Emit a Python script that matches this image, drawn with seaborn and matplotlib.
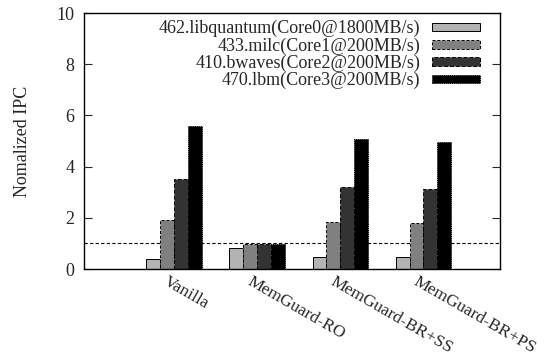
import pandas as pd
import numpy as np
import seaborn as sns
import matplotlib.pyplot as plt
import matplotlib.transforms as mtransforms

###### DATA #############
configs = ["Vanilla", "MemGuard-RO", "MemGuard-BR+SS", "MemGuard-BR+PS"]
benchmarks = ["462.libquantum(Core0@1800MB/s)",
              "433.milc(Core1@200MB/s)",
              "410.bwaves(Core2@200MB/s)",
              "470.lbm(Core3@200MB/s)"]
libquantum = [0.40, 0.83, 0.48, 0.48]
milc = [1.91, 0.99, 1.85, 1.81]
bwaves = [3.51, 0.96, 3.21, 3.13]
lbm = [5.59, 0.99, 5.08, 4.96]

colors = ["#b3b3b3", "#808080", "#333333", "#000000"]
edgestyles = ["solid", (0, (3, 2)), (0, (4, 2)), (0, (1, 1))]

rows = []
for bench, vals in zip(benchmarks, [libquantum, milc, bwaves, lbm]):
    for cfg, v in zip(configs, vals):
        rows.append({"config": cfg, "bench": bench, "ipc": v})
df = pd.DataFrame(rows)

sns.set_style("ticks")
plt.rcParams['font.family'] = ['Liberation Serif', 'DejaVu Serif']
plt.rcParams['font.size'] = 13

fig = plt.figure(figsize=(5.51, 3.56), dpi=100)
ax = fig.add_axes([84/551, 1-269/356, 416/551, 256/356])

sns.barplot(data=df, x="config", y="ipc", hue="bench", order=configs,
            hue_order=benchmarks, palette=colors, width=0.667, gap=0,
            saturation=1, ax=ax, legend=True)

for cont, ls in zip(ax.containers, edgestyles):
    for p in cont:
        p.set_edgecolor("black")
        p.set_linewidth(0.7)
        p.set_linestyle(ls)

ax.axhline(1, color="black", lw=0.8, ls=(0, (3, 2)), zorder=0.5)

ax.set_xlim(-1.08, 3.92)
ax.set_ylim(0, 10)
ax.set_yticks(np.arange(0, 11, 2))
ax.set_ylabel("Nomalized IPC", labelpad=18)
ax.set_xlabel("")
for s in ax.spines.values():
    s.set_visible(True)
    s.set_linewidth(1)
    s.set_color("black")
ax.tick_params(axis="y", direction="in", length=6, width=0.8, left=True, right=True, pad=7)
ax.tick_params(axis="x", length=0, pad=3, labelsize=12.5)

offset = mtransforms.ScaledTranslation(-5/100, 0, fig.dpi_scale_trans)
for lab in ax.get_xticklabels():
    lab.set_rotation(-30)
    lab.set_ha("left")
    lab.set_va("top")
    lab.set_rotation_mode("anchor")
    lab.set_transform(lab.get_transform() + offset)

handles, labels = ax.get_legend_handles_labels()
for h, ls in zip(handles, edgestyles):
    h.set_edgecolor("black")
    h.set_linewidth(0.7)
    h.set_linestyle(ls)
ax.legend(handles, labels, loc="upper right", bbox_to_anchor=(0.952, 0.972),
          frameon=False, markerfirst=False, borderaxespad=0, borderpad=0,
          handlelength=2.67, handleheight=0.35, handletextpad=0.65,
          labelspacing=0.0, fontsize=13)

fig.savefig("out.png", dpi=100)
